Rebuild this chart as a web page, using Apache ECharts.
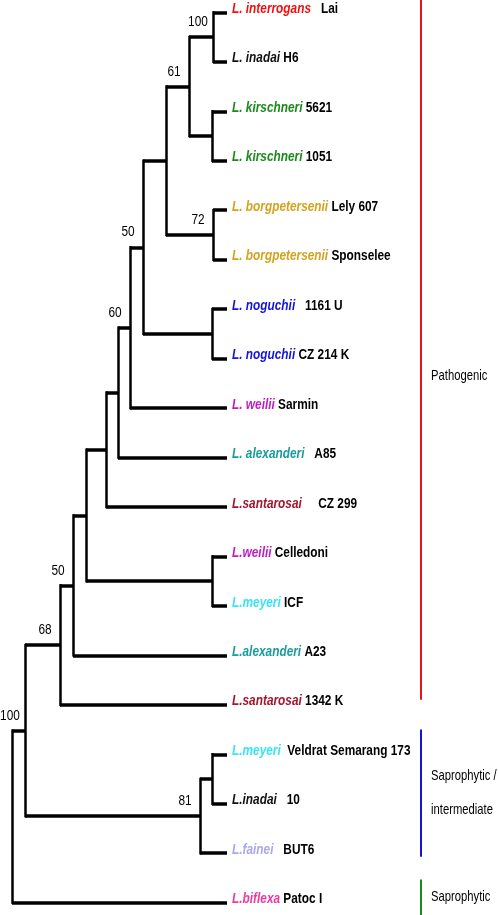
<!DOCTYPE html>
<html>
<head>
<meta charset="utf-8">
<script src="https://cdn.jsdelivr.net/npm/echarts@6/dist/echarts.min.js"></script>
<style>
html,body{margin:0;padding:0;background:#fff;}
#c{width:498px;height:915px;}
</style>
</head>
<body>
<div id="c"></div>
<script>
// ---- data ----
const leafSpecies = ['L. interrogans','L. inadai','L. kirschneri','L. kirschneri','L. borgpetersenii','L. borgpetersenii',
  'L. noguchii','L. noguchii','L. weilii','L. alexanderi','L.santarosai','L.weilii','L.meyeri','L.alexanderi',
  'L.santarosai','L.meyeri','L.inadai','L.fainei','L.biflexa'];
const leafStrains = ['   Lai',' H6',' 5621',' 1051',' Lely 607',' Sponselee','   1161 U',' CZ 214 K',' Sarmin','   A85',
  '     CZ 299',' Celledoni',' ICF',' A23',' 1342 K','  Veldrat Semarang 173','   10','   BUT6',' Patoc I'];
const leafColors = ['#ee1111','#111111','#1a8a1a','#1a8a1a','#d4a21e','#d4a21e','#1414d8','#1414d8','#c01cc4','#1a9c9c',
  '#a3162e','#c01cc4','#38e4f4','#1a9c9c','#a3162e','#38e4f4','#111111','#a8a8ea','#ee3aa0'];
const tipDepth = 227;
// internal nodes: children are leaf indices (numbers) or node ids (strings)
const nodeIds = ['A','B','C','D','E','F','G','H','I','J','K','L','M','N','O','P','Q','R'];
const nodeChildren = [[0,1],[2,3],['A','B'],[4,5],['C','D'],[6,7],['E','F'],['G',8],['H',9],['I',10],
  [11,12],['J','K'],['L',13],['M',14],[15,16],['O',17],['N','P'],['Q',18]];
const nodeDepth = [213,212,189,213,166,212,143,130,118,106,212,86,73,60,212,200,25,12];
const nodeSupport = [100,null,61,72,null,null,50,60,null,null,null,null,50,68,null,81,100,null];
const groupNames = ['Pathogenic','Saprophytic /\nintermediate','Saprophytic'];
const groupColors = ['#e8141c','#1414d8','#1a8a1a'];
const groupStart = [-0.25, 14.5, 17.53];
const groupEnd = [13.9, 17.07, 18.25];
const groupLabelAt = [7.35, 15.78, 17.88];

// ---- build ----
const FONT = '"Liberation Sans",Arial,sans-serif';
const SX = 0.79;
const pos = {};
function getPos(c){
  if (typeof c === 'number') return [tipDepth, c];
  if (pos[c]) return pos[c];
  const k = nodeIds.indexOf(c);
  const ys = nodeChildren[k].map(ch => getPos(ch)[1]);
  const p = [nodeDepth[k], (Math.min(...ys) + Math.max(...ys)) / 2];
  pos[c] = p;
  return p;
}
const vSegs = [], hSegs = [], supportPts = [];
nodeIds.forEach((id, k) => {
  const p = getPos(id);
  const ys = nodeChildren[k].map(ch => getPos(ch)[1]);
  vSegs.push({coords: [[p[0], Math.min(...ys)], [p[0], Math.max(...ys)]]});
  nodeChildren[k].forEach(ch => {
    const cp = getPos(ch);
    hSegs.push({coords: [[p[0], cp[1]], [cp[0], cp[1]]]});
  });
  if (nodeSupport[k] != null) supportPts.push([p[0], p[1], nodeSupport[k]]);
});
const leafPts = leafSpecies.map((s, i) => [tipDepth, i, i]);
const groupBars = groupNames.map((g, i) => ({
  coords: [[421, groupStart[i]], [421, groupEnd[i]]],
  lineStyle: {color: groupColors[i]}
}));
const groupPts = groupNames.map((g, i) => [431, groupLabelAt[i], i]);

function leafLabel(params, api){
  const i = api.value(2);
  const pt = api.coord([api.value(0), api.value(1)]);
  return {
    type: 'text', x: pt[0] + 5, y: pt[1] - 3.5, scaleX: SX, silent: true,
    style: {
      text: '{s|' + leafSpecies[i] + '}{t|' + leafStrains[i] + '}',
      verticalAlign: 'middle', align: 'left',
      rich: {
        s: {fill: leafColors[i], fontStyle: 'italic', fontWeight: 'bold', fontFamily: FONT, fontSize: 15},
        t: {fill: '#000', fontWeight: 'bold', fontFamily: FONT, fontSize: 15}
      }
    }
  };
}
function supportLabel(params, api){
  const pt = api.coord([api.value(0), api.value(1)]);
  return {
    type: 'text', x: pt[0] - 15, y: pt[1] - 15, scaleX: SX, silent: true,
    style: {text: String(api.value(2)), fill: '#000', fontFamily: FONT, fontSize: 15,
      align: 'center', verticalAlign: 'middle'}
  };
}
function groupLabel(params, api){
  const i = api.value(2);
  const pt = api.coord([api.value(0), api.value(1)]);
  return {
    type: 'text', x: pt[0], y: pt[1], scaleX: 0.75, silent: true,
    style: {text: groupNames[i], fill: '#000', fontFamily: FONT, fontSize: 15, lineHeight: 34,
      align: 'left', verticalAlign: 'middle'}
  };
}

const chart = echarts.init(document.getElementById('c'), null, {renderer: 'canvas'});
chart.setOption({
  backgroundColor: '#fff',
  animation: false,
  grid: {left: 0, right: 0, top: 0, bottom: 0},
  xAxis: {type: 'value', min: 0, max: 498, show: false},
  yAxis: {type: 'value', min: -0.25, max: 18.25, inverse: true, show: false},
  series: [
    {type: 'lines', coordinateSystem: 'cartesian2d', data: vSegs, silent: true,
     lineStyle: {color: '#000', width: 2.5, opacity: 1, cap: 'square'}},
    {type: 'lines', coordinateSystem: 'cartesian2d', data: hSegs, silent: true,
     lineStyle: {color: '#000', width: 3.5, opacity: 1, cap: 'butt'}},
    {type: 'lines', coordinateSystem: 'cartesian2d', data: groupBars, silent: true,
     lineStyle: {width: 2, opacity: 1}},
    {type: 'custom', coordinateSystem: 'cartesian2d', data: leafPts, renderItem: leafLabel,
     encode: {x: 0, y: 1}, clip: false, silent: true},
    {type: 'custom', coordinateSystem: 'cartesian2d', data: supportPts, renderItem: supportLabel,
     encode: {x: 0, y: 1}, clip: false, silent: true},
    {type: 'custom', coordinateSystem: 'cartesian2d', data: groupPts, renderItem: groupLabel,
     encode: {x: 0, y: 1}, clip: false, silent: true}
  ]
});
</script>
</body>
</html>
